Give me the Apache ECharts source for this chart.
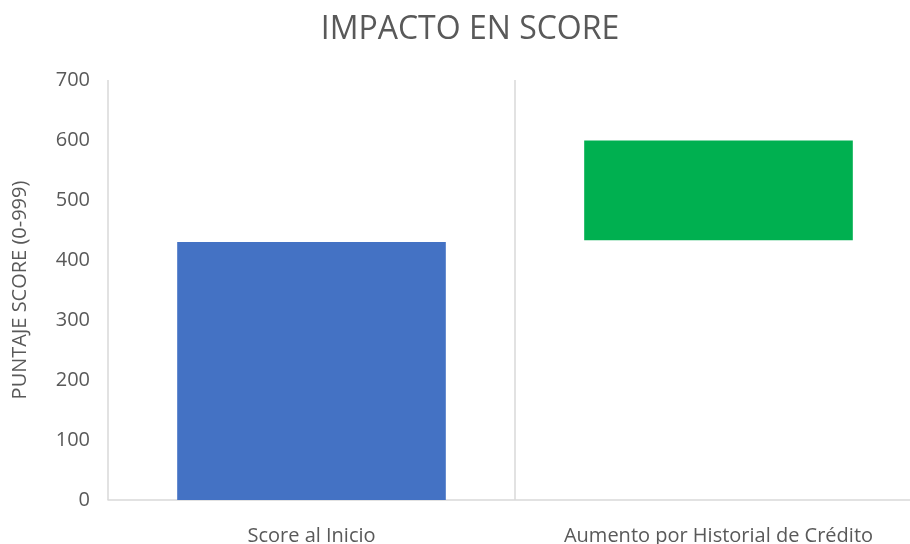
<!DOCTYPE html>
<html>
<head>
<meta charset="utf-8">
<script src="https://cdn.jsdelivr.net/npm/echarts@6/dist/echarts.min.js"></script>
<style>
  html, body { margin: 0; padding: 0; background: #fff; }
  #chart { width: 910px; height: 544px; }
</style>
</head>
<body>
<div id="chart"></div>
<script>
const categories = ["Score al Inicio", "Aumento por Historial de Crédito"];
const baseValues = [0, 433];
const barValues = [430, 166];
const barColors = ["#4472C4", "#00B050"];
const yTicks = [0, 100, 200, 300, 400, 500, 600, 700];

const chart = echarts.init(document.getElementById("chart"));
const font = "'Open Sans', 'Noto Sans', sans-serif";

chart.setOption({
  animation: false,
  title: {
    text: "IMPACTO EN SCORE",
    left: 465,
    top: 9,
    textAlign: "center",
    textStyle: { fontFamily: font, fontSize: 32, fontWeight: "normal", color: "#595959" },
  },
  grid: { left: 108, top: 80, width: 814, height: 420, containLabel: false, outerBoundsMode: "none" },
  xAxis: {
    type: "category",
    data: categories,
    boundaryGap: true,
    axisLine: { show: true, lineStyle: { color: "#d9d9d9", width: 1.5 } },
    axisTick: { show: false, interval: 0 },
    splitLine: { show: true, interval: 0, lineStyle: { color: "#d9d9d9", width: 1.5 } },
    axisLabel: { interval: 0, hideOverlap: false, fontFamily: font, fontSize: 20, color: "#595959", margin: 26 },
  },
  yAxis: {
    type: "value",
    min: yTicks[0],
    max: yTicks[yTicks.length - 1],
    interval: 100,
    name: "PUNTAJE SCORE (0-999)",
    nameLocation: "middle",
    nameGap: 78,
    nameTextStyle: { fontFamily: font, fontSize: 20, color: "#595959" },
    axisLine: { show: false },
    axisTick: { show: false },
    splitLine: { show: false },
    axisLabel: { fontFamily: font, fontSize: 20, color: "#595959", margin: 18 },
  },
  series: [
    {
      type: "bar",
      stack: "w",
      data: baseValues,
      itemStyle: { color: "transparent" },
      barWidth: "66%",
      silent: true,
    },
    {
      type: "bar",
      stack: "w",
      data: barValues.map((v, i) => ({ value: v, itemStyle: { color: barColors[i] } })),
      barWidth: "66%",
    },
  ],
});
</script>
</body>
</html>
